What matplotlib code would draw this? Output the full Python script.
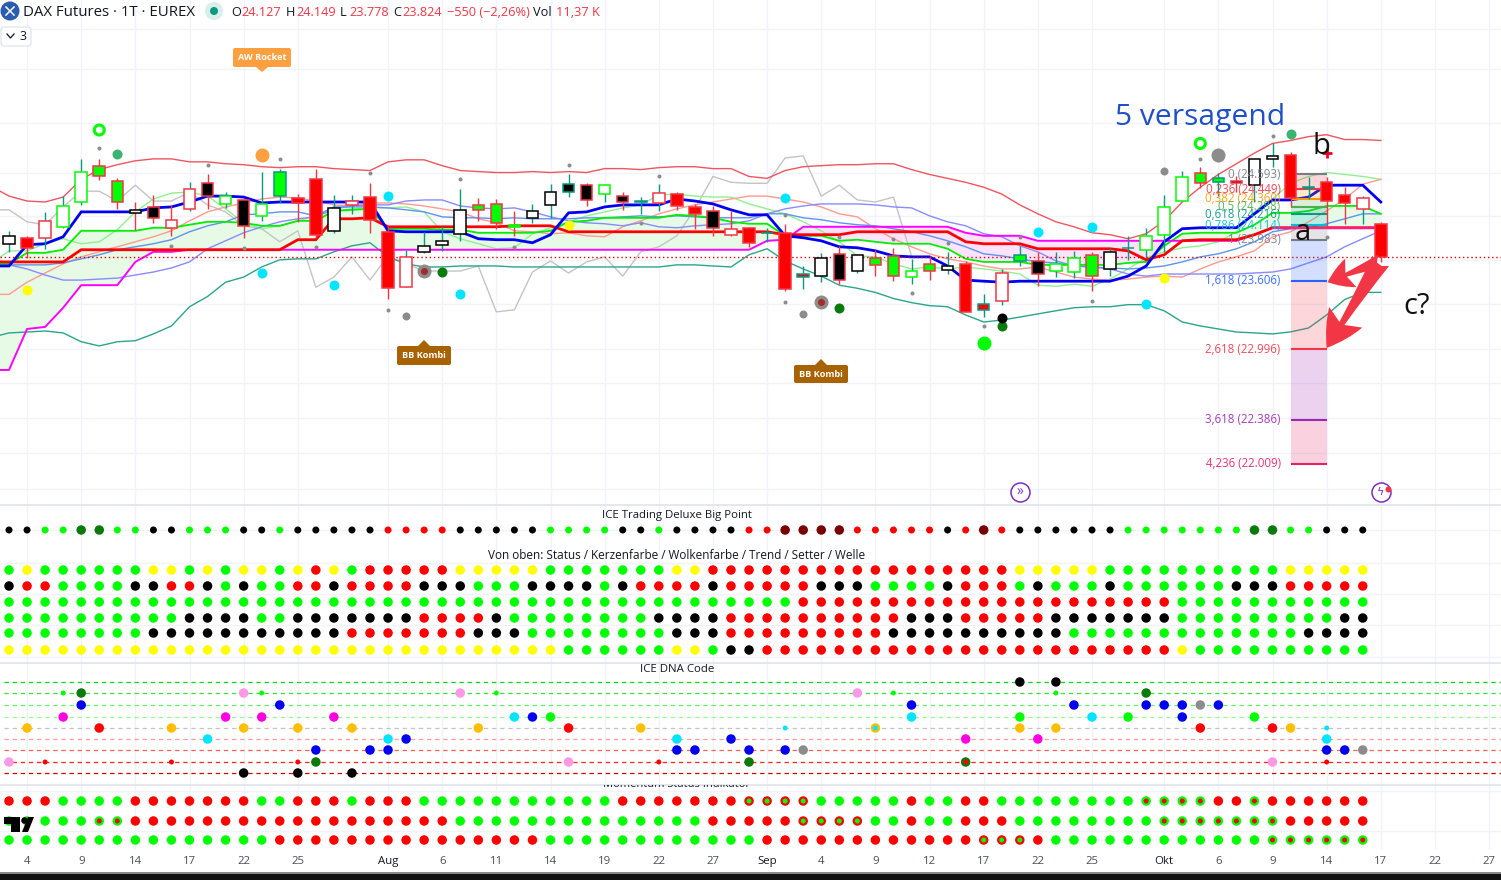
import numpy as np
import matplotlib
matplotlib.use('Agg')
import matplotlib.pyplot as plt
from matplotlib.patches import Circle, Polygon, FancyBboxPatch, Rectangle, FancyArrowPatch
from matplotlib.lines import Line2D
from matplotlib.ticker import NullLocator
from matplotlib.transforms import Affine2D

plt.rcParams['font.family'] = ['Open Sans', 'DejaVu Sans']

# candles, bar 0 = leftmost
body_top = [24018,24000,24156,24294,24616,24672,24524,24258,24285,24166,24451,24506,24386,24350,24313,24616,24368,24543,24276,24340,
            24377,24055,23825,23926,23972,24258,24304,24313,24120,24248,24423,24497,24488,24488,24386,24340,24414,24405,24285,24248,
            24083,24092,24046,24046,23669,23816,23853,23844,23816,23834,23696,23761,23742,23761,23402,23678,23844,23788,23761,23816,
            23844,23871,23908,24018,24285,24561,24598,24552,24524,24736,24764,24773,24469,24515,24396,24368,24127]
body_bot = [23945,23908,24000,24101,24331,24570,24331,24230,24184,24092,24267,24386,24313,24110,24202,24386,24322,24028,24064,24304,
            24166,23540,23549,23871,23936,24037,24258,24138,24101,24184,24304,24423,24350,24405,24331,24335,24322,24294,24221,24092,
            24028,23954,24041,23531,23641,23650,23614,23696,23752,23650,23641,23696,23706,23328,23347,23430,23788,23669,23696,23687,
            23650,23715,23903,23890,24028,24340,24506,24515,24506,24488,24736,24368,24464,24340,24322,24267,23824]
high = [24064,24018,24239,24386,24736,24736,24552,24331,24396,24304,24515,24589,24423,24359,24616,24644,24405,24644,24396,24396,
        24506,24110,23890,24055,24110,24451,24368,24359,24248,24313,24497,24589,24506,24497,24423,24377,24497,24423,24313,24294,
        24248,24101,24092,24129,23742,23862,23926,23853,23890,23908,23807,23834,23871,23788,23485,23715,23926,23871,23871,23880,
        23871,23908,24018,24092,24396,24626,24662,24598,24570,24736,24883,24800,24561,24561,24469,24386,24149]
low = [23871,23816,23899,24092,24304,24534,24267,24074,24138,24018,24248,24267,24276,24000,24156,24322,24147,24000,24046,24221,
       24046,23448,23549,23862,23880,23972,24156,24083,24018,24138,24184,24377,24294,24331,24258,24221,24248,24258,24083,24018,
       24018,23917,23963,23512,23531,23595,23577,23678,23650,23604,23577,23614,23669,23328,23282,23393,23742,23558,23641,23632,
       23512,23650,23798,23825,23871,24340,24460,24386,24423,24331,24662,24294,24359,24101,24129,24129,23778]
body_fill = "wrwwwggwkw" "wkwkwgrrww" "rrwwwwgggw" "wkkwktwrrk" "wrtrrwkwgg" "wgwrrwgkww" "gwtwwwggkw" "wrtrrwr"
body_edge = "krrggrrkrr" "rrgrgtrrkr" "rrrkkkrrgk" "ktrgrtrrrr" "rrtrtkrkrr" "grkrtrtrgg" "rktgggrtrk" "krtrrrr"
wick_col = "trtttrrrrr" "trtrttrrtt" "rrttttrrrt" "ttrtrttrrr" "rrtrttrtrr" "trtrtttrtt" "rtttttrtrt" "trtrrtr"

# indicator lines, first value is one bar left of the picture
blue_thick = [23742,23742,23936,23945,24009,24239,24239,24239,24239,24276,24285,24331,24386,24386,24377,24322,24331,24331,24331,24331,24331,
              24331,24064,24055,24055,24055,24055,23991,23982,23982,23954,24028,24230,24239,24285,24304,24304,24304,24359,24340,24313,
              24258,24212,24212,24018,24000,23972,23917,23908,23880,23834,23825,23825,23742,23614,23604,23595,23604,23604,23604,23604,
              23604,23604,23650,23742,23963,24083,24092,24092,24092,24221,24350,24350,24377,24488,24488,24488,24331]
red_thick = [23779,23779,23779,23779,23779,23890,23890,23890,23890,23890,23890,23890,23890,23890,23890,23890,23890,23982,23982,24175,24175,
             24184,24101,24101,24101,24101,24101,24101,24101,24110,24110,24110,24055,24055,24055,24055,24055,24055,24055,24055,24055,
             24055,24055,24055,24028,24028,24028,24028,24055,24055,24055,24055,24055,24055,23963,23945,23945,23945,23899,23899,23899,
             23899,23899,23880,23798,23844,23972,23982,23982,23982,24028,24092,24092,24092,24092,24092,24092,24092]
green_mid = [23761,23761,23862,23862,23890,24064,24064,24064,24064,24092,24092,24120,24147,24147,24138,24110,24110,24156,24156,24248,24258,
             24267,24083,24083,24083,24074,24074,24046,24046,24046,24046,24064,24147,24156,24184,24184,24184,24184,24212,24202,24184,
             24147,24129,24129,24018,24018,24018,23972,23982,23963,23945,23945,23945,23899,23807,23779,23779,23779,23752,23752,23752,
             23752,23752,23770,23779,23926,24037,24046,24046,24046,24120,24230,24230,24248,24294,24294,24294,24221]
magenta = [22815,22815,23176,23194,23365,23568,23568,23568,23779,23871,23871,23890,23890,23890,23890,23890,23890,23890,23890,23890,23890,
           23890,23890,23890,23890,23890,23890,23890,23890,23890,23890,23890,23890,23890,23890,23890,23890,23890,23890,23890,23890,
           23890,23890,23972,23982,24101,24101,24101,24101,24101,24101,24101,24101,24101,24046,24018,24018,24018,23972,23972,23972,
           23972,23972,23972,23972,23972,23972,23972,23972,23972,24028,24092,24092,24092,24092,24092,24092,24092]
upper_red = [24478,24386,24340,24331,24377,24543,24635,24681,24718,24736,24736,24708,24708,24690,24681,24662,24653,24662,24662,24644,24635,
             24626,24708,24727,24727,24672,24626,24616,24607,24607,24616,24607,24616,24607,24644,24644,24635,24653,24662,24662,24644,
             24644,24570,24552,24626,24662,24672,24681,24681,24690,24690,24635,24589,24552,24515,24469,24405,24304,24221,24147,24101,
             24046,24028,23991,24037,24156,24331,24469,24589,24690,24791,24883,24911,24948,24966,24920,24920,24911]
lower_teal = [23100,23141,23149,23158,23141,23063,23026,23063,23072,23132,23203,23374,23466,23595,23641,23733,23798,23807,23807,23871,23926,
              23954,23825,23761,23733,23733,23742,23742,23742,23733,23733,23733,23733,23733,23733,23733,23733,23733,23752,23752,23742,
              23733,23844,23899,23788,23715,23650,23568,23540,23503,23448,23411,23384,23374,23301,23238,23255,23282,23310,23338,23365,
              23374,23374,23393,23393,23338,23238,23203,23176,23149,23141,23132,23150,23185,23301,23439,23503,23503]
periwinkle = [23752,23752,23715,23660,23614,23614,23623,23632,23660,23687,23724,23779,23899,23972,24046,24101,24147,24175,24193,24267,24294,
              24304,24304,24340,24350,24350,24294,24276,24267,24276,24239,24193,24156,24138,24129,24110,24138,24101,24092,24110,24120,
              24129,24156,24221,24267,24294,24313,24313,24313,24304,24285,24276,24202,24147,24110,24037,24009,23926,23871,23788,23742,
              23733,23715,23669,23650,23669,23669,23669,23669,23669,23678,23687,23715,23770,23825,23917,23991,24064]
sky_blue = [23752,23752,23752,23752,23770,23807,23844,23890,23917,23945,23982,24055,24110,24147,24212,24221,24239,24239,24202,24285,24285,
            24285,24276,24258,24239,24193,24184,24184,24175,24184,24175,24175,24175,24184,24184,24193,24202,24193,24202,24193,24184,
            24184,24184,24221,24221,24184,24166,24138,24120,24110,24083,24055,24018,23972,23917,23853,23834,23807,23779,23770,23742,
            23733,23724,23715,23724,23742,23779,23825,23853,23899,23963,24055,24083,24092,24129,24175,24221,24221]
light_green = [23761,23880,23880,23945,23991,23945,23963,24074,24239,24359,24414,24423,24386,24267,24138,24083,24110,24156,24202,24248,24267,
               24276,24276,24285,24239,24055,23991,23945,23899,23908,24037,24092,24147,24202,24239,24276,24304,24396,24405,24386,24377,
               24377,24313,24267,24221,24147,24064,23963,23834,23825,23761,23715,23733,23715,23733,23715,23696,23669,23568,23558,23577,
               23558,23623,23715,23816,23871,23908,23926,23963,24055,24239,24359,24506,24570,24607,24589,24570,24543]
salmon = [23485,23485,23595,23678,23761,23825,23871,23917,23963,24009,24064,24156,24239,24285,24322,24359,24377,24368,24340,24304,24294,
          24322,24322,24313,24294,24267,24239,24175,24138,24064,24055,24037,24046,24018,24009,24101,24156,24221,24267,24304,24331,
          24359,24386,24386,24359,24331,24285,24221,24193,24083,23991,23917,23853,23807,23779,23742,23715,23715,23733,23687,23641,
          23623,23614,23623,23641,23650,23641,23715,23779,23825,23880,24009,24055,24147,24248,24359,24497,24543]
gray_lag = [24258,24258,24147,24120,24285,24432,24432,24340,24488,24340,24340,24423,24304,24239,24110,24083,23963,24064,23549,23641,23825,
            23614,23834,23761,23696,23696,23696,23742,23328,23347,23687,23788,23678,23779,23825,23650,23871,23917,24018,24267,24570,
            24515,24506,24506,24745,24764,24386,24488,24350,24331,24377,23834]

# dots in the price pane
tiny_bars = [5,11,15,20,9,13,17,21,25,28,31,36,35,43,43,46,49,52,50,54,56,60,66,70,73]
tiny_px = [24837,24681,24736,24607,23926,23908,23917,23347,24543,23917,24681,24570,24138,24212,23420,24009,23991,23954,23494,23203,24009,23430,24736,24957,24009]
cyan_bars = [21,14,18,25,43,57,60,63]
cyan_px = [24386,23678,23568,23485,24368,24055,24101,23402]
yellow_bars = [1,31,64]
yellow_px = [23522,24120,23632]
seagreen_bars = [6,71]
seagreen_px = [24782,24970]
gray_bars = [22,44,64]
gray_px = [23290,23310,24626]
biggray_bars = [67]
biggray_px = [24773]
ring_bars = [23,45]
ring_px = [23696,23420]
darkgreen_bars = [24,46,55]
darkgreen_px = [23687,23365,23200]
limering_bars = [5,66]
limering_px = [25011,24883]
biglime_bars = [54]
biglime_px = [23053]
black_bars = [55]
black_px = [23273]
orange_bars = [14]
orange_px = [24773]

# fibonacci tool
fib_prices = [24593,24449,24360,24288,24216,24114,23983,23606,22996,22386,22009]
fib_labels = ['0 (24.593)','0,236 (24.449)','0,382 (24.360)','0,5 (24.288)','0,618 (24.216)','0,786 (24.114)',
              '1 (23.983)','1,618 (23.606)','2,618 (22.996)','3,618 (22.386)','4,236 (22.009)']
fib_colors = ['#787b86','#f23645','#ff9800','#4caf50','#089981','#00bcd4','#787b86','#2962ff','#f23645','#9c27b0','#e91e63']

# axis
tick_bars = [1,4,7,10,13,16,21,24,27,30,33,36,39,42,45,48,51,54,57,60,64,67,70,73,76,79,82]
tick_names = ['4','9','14','17','22','25','Aug','6','11','14','19','22','27','Sep','4','9','12','17','22','25','Okt','6','9','14','17','22','27']
grid_prices = [26000,25600,25080,24600,24200,23800,23400,23000,22700,22400,22100,21800]

# big point + status rows, one letter per bar
big_point = "kkggddggkkgggkkgkkkkkrrrrkkkkkggggkkgkk" "kkrrmmmmrrrrrkrmrkkkkkkgggggggddggkkk"
status = "gyggggggyygygyygyrygrrrrryyyyygggggggyy" "rrrrrrrrrrrrrrrrryyyyyggggggggggyyyyy"
kerzen = "krrggggkkrrkgkggrrkrrrrkkkgggkkkkgkrrrr" "krrrrrkkkggggkrrrgkgggkggggggkkkrrrrr"
wolke = "ggggggggggggggggggggggggggggggggggggggg" "gggggrrrrrrrrrrrrrrrrrrrrrggggggggggg"
trend = "ggggggggggkkkkggkkkkkkkrrrrkggggggggkkk" "krrrrrrrrrrkkkrrrrrkkkkkkkgggggggggkk"
setter = "ggggggggkkkkkkkkkkkrrrrrrrkkkggggggggkk" "krrrrrrrrrkkkkkkkkkkgggggggggggggkkkk"
welle = "yyyyyyyyyyyyyyyyyyyyyyyyyyyyyyyggggggyy" "gkkrrrrrrrrrrrrrrrrrrrrrrrygggggggggg"

# dna code dots (upper case = small)
dna_bars = [56,58, 3,4,13,14,25,27,47,49,58,63, 4,15,50,59,63,64,65,66,67, 3,12,14,18,28,29,30,50,56,60,62,65,69,
            1,5,9,13,16,19,26,31,35,43,48,48,56,58,66,70,71,73, 11,21,22,37,40,53,57,73,
            17,20,21,37,38,41,43,44,73,74,75, 0,2,9,16,17,31,36,41,53,53,70,73, 13,16,19]
dna_levels = [0,0, 1,1,1,1,1,1,1,1,1,1, 2,2,2,2,2,2,2,2,2, 3,3,3,3,3,3,3,3,3,3,3,3,3,
              4,4,4,4,4,4,4,4,4,4,4,4,4,4,4,4,4,4, 5,5,5,5,5,5,5,5,
              6,6,6,6,6,6,6,6,6,6,6, 7,7,7,7,7,7,7,7,7,7,7,7, 8,8,8]
dna_codes = "kk" "GnpGpGpGGn" "bbbbbbbeb" "ffffcbgcgcgbg" "oroooooroCoCoorroC" "ccbcbffc" "bbbbbbbebbe" "pRRRnpRnnRpR" "kkk"

# momentum rows, a = red with green centre, b = green with red centre
mom1 = "rrrggggrrrrrrrggrrrgrrrgggggggggggrrrrr" "rraaaagggggrggrrggggggggbbbbrrbrrrrrr"
mom2 = "gggggbbrrrrrrrrrrrrrrrrrrgggggggggggggg" "rrrrraaaaggrggrrrggggggggbbbbbbbrrrrr"
mom3 = "gggggggggggggggrrrrrrrrrrrrrrrggggggggg" "gggrrrrrrrrrrrraaarggggggggggggbbbbbb"

W, H = 1501, 880
BAR0, BARW = 9.0, 18.05
xlim = (-BAR0 / BARW, (W - BAR0) / BARW)
px = lambda v: v * 0.72

col = {'k': '#000000', 'g': '#00ff00', 'r': '#ff0000', 'y': '#ffff00', 'd': '#0a7a0a', 'm': '#7a0000', 'w': '#ffffff',
       't': '#089981', 'b': '#0000f0', 'c': '#00e5ff', 'n': '#0a7a0a', 'e': '#8c8c8c', 'p': '#ff99e6', 'o': '#ffbf00',
       'f': '#ff00e0'}
edge_col = dict(col, r='#f23645')
wick_map = {'t': '#089981', 'r': '#f23645'}
grid_c = '#f0f3fa'
sep_c = '#e0e3eb'

fig = plt.figure(figsize=(W / 100, H / 100), dpi=100, facecolor='white')
pixel = Affine2D().scale(1, -1).translate(0, H)


def pane(top, bottom):
    ax = fig.add_axes([0, (H - bottom) / H, 1, (bottom - top) / H])
    ax.set_xlim(*xlim)
    ax.set_xticks(tick_bars)
    ax.grid(True, axis='x', color=grid_c, lw=1)
    ax.set_axisbelow(True)
    ax.tick_params(length=0, labelbottom=False, labelleft=False)
    for s in ax.spines:
        ax.spines[s].set_visible(False)
    return ax


# price pane
ax = pane(0, 505)
ax.set_yscale('log')
ax.set_ylim(21665, 26288)
ax.set_yticks(grid_prices)
ax.yaxis.set_minor_locator(NullLocator())
ax.grid(True, axis='y', color=grid_c, lw=1)
ax.tick_params(which='both', length=0, labelleft=False, labelbottom=False)

bars = np.arange(len(body_top))
line_x = np.arange(-1, len(body_top))
g = np.array(green_mid, float)
m = np.array(magenta, float)
ax.fill_between(line_x, g, m, where=g >= m, interpolate=True, color='#e6fae6', lw=0, zorder=1)
ax.fill_between(line_x, g, m, where=g <= m, interpolate=True, color='#fbe3fb', lw=0, zorder=1)
ax.plot(np.arange(-1, len(gray_lag) - 1), gray_lag, color='#c4c4c4', lw=1.0, zorder=2)
ax.plot(line_x, light_green, color='#90f090', lw=1.0, zorder=2)
ax.plot(line_x, salmon, color='#ff9a90', lw=1.0, zorder=2)
ax.plot(line_x, periwinkle, color='#8a8aff', lw=1.0, zorder=2)
ax.plot(line_x, sky_blue, color='#5f93ee', lw=1.0, zorder=2)
ax.plot(line_x, upper_red, color='#f0555f', lw=1.0, zorder=2)
ax.plot(line_x, lower_teal, color='#2aa58a', lw=1.0, zorder=2)
ax.plot(line_x, green_mid, color='#00ee00', lw=1.3, zorder=3)
ax.plot(line_x, magenta, color='#ff00ff', lw=1.4, zorder=3)
ax.plot(line_x, red_thick, color='#ff0000', lw=2.0, zorder=3, solid_joinstyle='miter')
ax.plot(line_x[71:], np.array(magenta)[71:], color='#ff1a8c', lw=1.5, zorder=3)
ax.plot(line_x, blue_thick, color='#0000f0', lw=2.0, zorder=3, solid_joinstyle='miter')
ax.axhline(23824, color='#e00000', lw=1, ls=(0, (1, 2)), zorder=3)

# fib zones
fib_x = [71, 73]
for i in range(len(fib_prices) - 1):
    ax.fill_between(fib_x, fib_prices[i], fib_prices[i + 1], color=fib_colors[i + 1] if i != 0 else '#f23645',
                    alpha=0.2, lw=0, zorder=3.5)
for p, c in zip(fib_prices, fib_colors):
    ax.plot(fib_x, [p, p], color=c, lw=1.5, zorder=3.6, solid_capstyle='butt')

# candles
ax.vlines(bars, low, high, colors=[wick_map[c] for c in wick_col], lw=1.0, zorder=5)
ax.bar(bars, np.array(body_top) - np.array(body_bot), bottom=body_bot, width=0.64,
       color=[col[c] for c in body_fill], edgecolor=[edge_col[c] for c in body_edge], lw=1.1, zorder=6)

# dots
ax.scatter(tiny_bars, tiny_px, s=px(4) ** 2, color='#8c8c8c', lw=0, zorder=7)
ax.scatter(cyan_bars, cyan_px, s=px(10) ** 2, color='#00e5ff', lw=0, zorder=7)
ax.scatter(yellow_bars, yellow_px, s=px(10) ** 2, color='#ffff00', lw=0, zorder=7)
ax.scatter(seagreen_bars, seagreen_px, s=px(10) ** 2, color='#3cb371', lw=0, zorder=7)
ax.scatter(gray_bars, gray_px, s=px(8) ** 2, color='#8c8c8c', lw=0, zorder=7)
ax.scatter(biggray_bars, biggray_px, s=px(14) ** 2, color='#8c8c8c', lw=0, zorder=7)
ax.scatter(ring_bars, ring_px, s=px(14) ** 2, color='#8c8c8c', lw=0, zorder=7)
ax.scatter(ring_bars, ring_px, s=px(7) ** 2, color='#a52a2a', lw=0, zorder=7.1)
ax.scatter(darkgreen_bars, darkgreen_px, s=px(10) ** 2, color='#0a7a0a', lw=0, zorder=7)
ax.scatter(limering_bars, limering_px, s=px(10) ** 2, facecolor='none', edgecolor='#00ff00', lw=2.2, zorder=7)
ax.scatter(biglime_bars, biglime_px, s=px(14) ** 2, color='#00ff00', lw=0, zorder=7)
ax.scatter(black_bars, black_px, s=px(10) ** 2, color='#000000', lw=0, zorder=7.1)
ax.scatter(orange_bars, orange_px, s=px(14) ** 2, color='#ffa040', lw=0, zorder=7)
ax.plot([73], [24791], marker='+', ms=7, mew=2, color='#f00020', zorder=8)

# fib labels
for p, t, c in zip(fib_prices, fib_labels, fib_colors):
    ax.text(70.45, p, t, ha='right', va='center', fontsize=8.3, color=c, zorder=9, alpha=0.9)

# purple icons at the bottom of the pane
ax.scatter([56, 76], [21773, 21773], s=px(19) ** 2, facecolor='white', edgecolor='#7b2fbe', lw=1.1, zorder=9)
ax.scatter([76.4], [21800], s=px(6) ** 2, color='#f23645', lw=0, zorder=10)
ax.text(56, 21773, '\u00bb', ha='center', va='center', fontsize=10, color='#7b2fbe', zorder=10)
ax.text(76, 21773, '\u03df', ha='center', va='center', fontsize=8, color='#7b2fbe', zorder=10,
        family=['DejaVu Sans'])

# arrows to the targets
for tip, head in (((73.05, 23595), (1.8, 2.2, 1.0)), ((73.0, 23008), (2.6, 2.8, 1.4))):
    ax.add_patch(FancyArrowPatch((76, 23788), tip, mutation_scale=10, shrinkA=0, shrinkB=0,
                                 arrowstyle='fancy,head_length=%f,head_width=%f,tail_width=%f' % head,
                                 color='#f23645', lw=0, zorder=9))

# lower panes
p1 = pane(505, 663)
p1.set_ylim(158, 0)
p1.set_yticks([25, 58, 89, 120, 152])
p1.grid(True, axis='y', color=grid_c, lw=1)
p1.spines['top'].set_visible(True)
p1.spines['top'].set_color(sep_c)
p1.spines['top'].set_linewidth(1.2)
p1.scatter(bars[:len(big_point)], [25] * len(big_point), c=[col[c] for c in big_point],
           s=[px(9.5 if c in 'dm' else 7) ** 2 for c in big_point], lw=0, zorder=3)
for y, row in zip([65, 81, 97, 113, 128, 145], [status, kerzen, wolke, trend, setter, welle]):
    p1.scatter(bars[:len(row)], [y] * len(row), c=[col[c] for c in row], s=px(9.5) ** 2, lw=0, zorder=3)

p2 = pane(663, 785)
p2.set_ylim(122, 0)
dna_y = [19, 30, 42, 54, 65, 76, 87, 99, 110]
dna_line_c = ['#00e000', '#30e830', '#66ee66', '#99f599', '#c4c4c4', '#ff9c9c', '#ff5c5c', '#ff2020', '#d00000']
p2.spines['top'].set_visible(True)
p2.spines['top'].set_color(sep_c)
p2.spines['top'].set_linewidth(1.2)
big = {'G': 'g', 'R': 'r', 'C': 'c'}
for y, c in zip(dna_y, dna_line_c):
    p2.plot([-0.3, xlim[1]], [y, y], color=c, lw=0.9, ls=(0, (3.5, 3)), zorder=2)
p2.scatter(dna_bars, [dna_y[l] for l in dna_levels], c=[col[big.get(c, c)] for c in dna_codes],
           s=[px(5 if c in big else 9.5) ** 2 for c in dna_codes], lw=0, zorder=3)

p3 = pane(785, 849)
p3.set_ylim(64, 0)
p3.set_yticks([6, 46])
p3.grid(True, axis='y', color=grid_c, lw=1)
p3.spines['top'].set_visible(True)
p3.spines['top'].set_color(sep_c)
p3.spines['top'].set_linewidth(1.2)
p3.text(37, -1, 'Momentum Status Indikator', ha='center', va='center', fontsize=8, color='#131722', clip_on=True)
outer = {'a': 'r', 'b': 'g'}
inner = {'a': 'g', 'b': 'r'}
for y, row in zip([16, 36, 55], [mom1, mom2, mom3]):
    p3.scatter(bars[:len(row)], [y] * len(row), c=[col[outer.get(c, c)] for c in row], s=px(9.5) ** 2, lw=0, zorder=3)
    two = [i for i, c in enumerate(row) if c in inner]
    p3.scatter(two, [y] * len(two), c=[col[inner[row[i]]] for i in two], s=px(5) ** 2, lw=0, zorder=4)
p3.tick_params(labelbottom=True, pad=5, labelsize=8.2, colors='#4a4e5a', length=0)
p3.set_xticklabels(tick_names)
for lab in p3.get_xticklabels():
    if lab.get_text() in ('Aug', 'Sep', 'Okt'):
        lab.set_color('#131722')

# overlays, placed in picture pixels
over = fig.add_axes([0, 0, 1, 1], facecolor='none')
over.axis('off')


def note(x, y, s, **kw):
    kw.setdefault('va', 'center')
    kw.setdefault('color', '#131722')
    over.text(x, y, s, transform=pixel, **kw)


note(23, 12, 'DAX Futures \u00b7 1T \u00b7 EUREX', fontsize=10.8)
over.add_patch(Circle((10, 11), 9.5, color='#2b5cb0', transform=pixel, lw=0))
over.add_line(Line2D([6, 14], [7, 15], color='white', lw=1.1, transform=pixel))
over.add_line(Line2D([6, 14], [15, 7], color='white', lw=1.1, transform=pixel))
over.add_patch(Circle((214, 11), 9, color='#d9efeb', transform=pixel, lw=0))
over.add_patch(Circle((214, 11), 4, color='#089981', transform=pixel, lw=0))
for x, s, c in [(231, 'O', '#131722'), (241, '24.127', '#f23645'), (286, 'H', '#131722'), (296, '24.149', '#f23645'),
                (340, 'L', '#131722'), (349, '23.778', '#f23645'), (393, 'C', '#131722'), (402, '23.824', '#f23645'),
                (447, '\u2212550 (\u22122,26%)', '#f23645'), (533, 'Vol', '#131722'), (556, '11,37 K', '#f23645')]:
    note(x, 12, s, fontsize=9.2, color=c)
over.add_patch(FancyBboxPatch((1, 27), 30, 19, boxstyle='round,pad=0,rounding_size=3', transform=pixel,
                              facecolor='white', edgecolor='#e0e3eb', lw=0.9))
over.add_line(Line2D([7, 10.5, 14], [34, 38, 34], color='#131722', lw=0.9, transform=pixel))
note(23, 36.5, '3', ha='center', fontsize=9)

for x, y, w, h, tip, s, c in [(233, 48, 58, 19, 72, 'AW Rocket', '#ffa040'),
                              (397, 346, 54, 19, 340, 'BB Kombi', '#a86200'),
                              (794, 365, 54, 18, 359, 'BB Kombi', '#a86200')]:
    over.add_patch(FancyBboxPatch((x, y), w, h, boxstyle='round,pad=0,rounding_size=2', transform=pixel,
                                  facecolor=c, edgecolor='none'))
    base = y + h if tip > y else y
    over.add_patch(Polygon([(x + w / 2 - 6, base), (x + w / 2 + 6, base), (x + w / 2, tip)], color=c, lw=0, transform=pixel))
    note(x + w / 2, y + h / 2, s, ha='center', fontsize=6.6, color='white', fontweight='bold')

note(1115, 117, '5 versagend', fontsize=21.6, color='#1f50c8')
note(1321.5, 146, 'b', ha='center', fontsize=21, color='#111111')
note(1303, 232, 'a', ha='center', fontsize=21, color='#111111')
note(1417, 306, 'c?', ha='center', fontsize=21, color='#111111')

note(677, 515, 'ICE Trading Deluxe Big Point', ha='center', fontsize=8.2)
note(677, 555, 'Von oben: Status / Kerzenfarbe / Wolkenfarbe / Trend / Setter / Welle', ha='center', fontsize=8.5)
note(677, 669, 'ICE DNA Code', ha='center', fontsize=8.2)

# tradingview mark
over.add_patch(Polygon([(4, 817), (20, 817), (20, 832), (11, 832), (11, 824), (4, 824)], color='black', lw=0, transform=pixel))
over.add_patch(Circle((24.5, 820.5), 3.3, color='black', lw=0, transform=pixel))
over.add_patch(Polygon([(28, 832), (22, 832), (28, 817), (34, 817)], color='black', lw=0, transform=pixel))

# strip at the picture's lower edge
over.add_patch(Rectangle((0, 872), W, 2, color='#8a8a8a', lw=0, transform=pixel))
over.add_patch(Rectangle((0, 874), W, 6, color='#131313', lw=0, transform=pixel))

fig.savefig('out.png', dpi=100)
